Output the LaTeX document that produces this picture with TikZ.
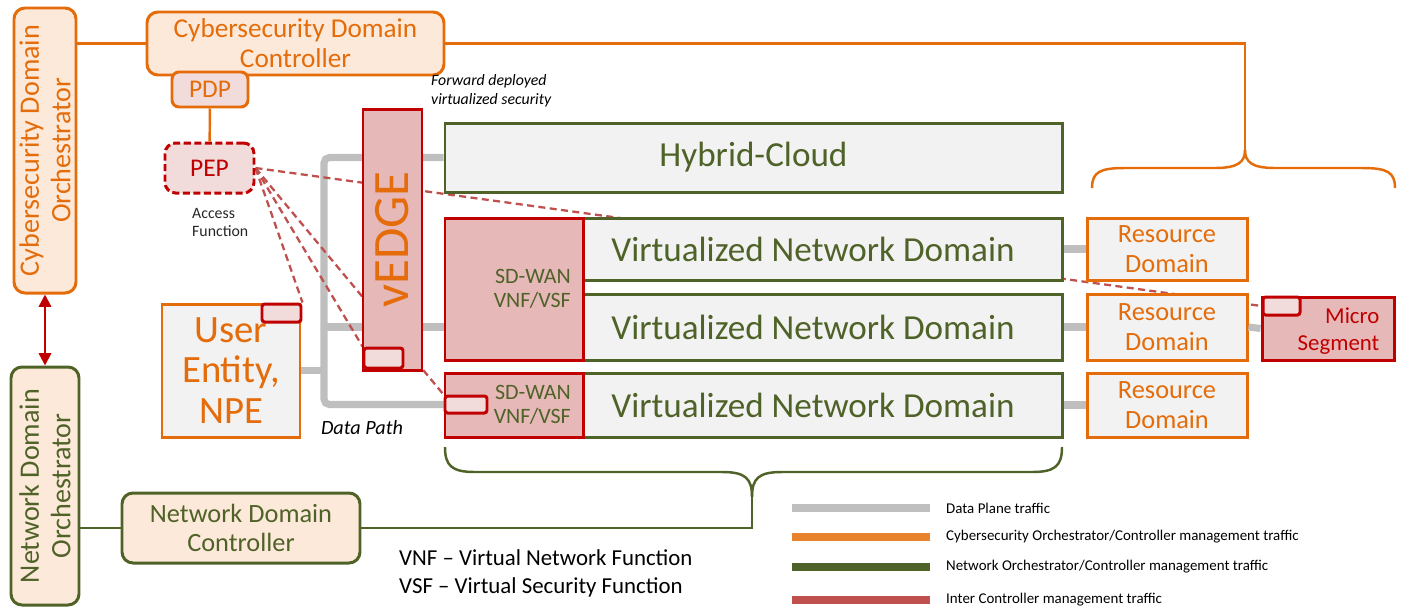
\documentclass[tikz,border=0pt]{standalone}
\usepackage{fontspec}
\setmainfont{Carlito}
\usetikzlibrary{positioning,backgrounds,arrows.meta}
\definecolor{orgline}{RGB}{228,108,10}
\definecolor{orgfill}{RGB}{253,233,217}
\definecolor{grnline}{RGB}{79,98,40}
\definecolor{redline}{RGB}{192,0,0}
\definecolor{redfill}{RGB}{230,185,184}
\definecolor{pinkfill}{RGB}{242,220,219}
\definecolor{boxfill}{RGB}{242,242,242}
\definecolor{dashred}{RGB}{192,80,77}
\definecolor{datagray}{RGB}{191,191,191}
\definecolor{legorange}{RGB}{233,130,45}
\tikzset{
  px/.style 2 args={minimum width=#1*0.02cm, minimum height=#2*0.02cm},
  base/.style={draw, line width=1.7pt, inner sep=0pt, align=center},
  orchbox/.style={base, rounded corners=0.22cm, fill=orgfill},
  netbox/.style={base, draw=grnline, fill=boxfill, text=grnline},
  resbox/.style={base, draw=orgline, fill=boxfill, text=orgline},
  secbox/.style={base, draw=redline, fill=redfill},
  tagbox/.style={base, draw=redline, fill=pinkfill, rounded corners=1.5pt},
  datapath/.style={datagray, line width=4pt},
  csmgmt/.style={orgline, line width=1.4pt},
  nwmgmt/.style={grnline, line width=1.4pt},
  icmgmt/.style={dashred, line width=1.3pt, dash pattern=on 4pt off 2.5pt},
}
\begin{document}
\begin{tikzpicture}[x=0.02cm, y=-0.02cm]
\useasboundingbox (0,0) rectangle (1403,613);
\def\fmid{\fontsize{15}{17}\selectfont}
\def\fbig{\fontsize{20}{24}\selectfont}
\def\fsmall{\fontsize{9}{10.5}\selectfont}

% orchestrators and controllers
\node[orchbox, draw=orgline, text=orgline, rotate=90, px={285}{62}, font=\fontsize{16}{18}\selectfont] (cso) at (45,150.5) {Cybersecurity Domain\\Orchestrator};
\node[orchbox, draw=grnline, text=grnline, rotate=90, px={238}{68}, font=\fontsize{16}{18}\selectfont] (ndo) at (45,486) {Network Domain\\Orchestrator};
\draw[redline, line width=1.3pt, {Triangle[length=7pt,width=7pt]}-{Triangle[length=7pt,width=7pt]}] (cso) -- (ndo);

\node[orchbox, draw=orgline, text=orgline, px={297}{63}, font=\fontsize{15.5}{17}\selectfont] (cdc) at (295.5,43.5) {Cybersecurity Domain\\Controller};
\node[orchbox, draw=grnline, text=grnline, px={238}{70}, font=\fmid] (ndc) at (241,528) {Network Domain\\Controller};
\draw[csmgmt] (cdc.west) -- (cdc.west -| cso.south);
\draw[nwmgmt] (ndc.west) -- (ndc.west -| ndo.south);

\node[base, draw=orgline, fill=pinkfill, text=orgline, rounded corners=4pt, px={76}{35}, font=\fontsize{14.5}{16}\selectfont] (pdp) at (210,89.5) {PDP};
\node[base, draw=redline, fill=pinkfill, text=redline, dash pattern=on 4pt off 2pt, rounded corners=6pt, px={89}{50}, font=\fontsize{14.5}{16}\selectfont] (pep) at (209.5,168) {PEP};
\draw[csmgmt] (pdp) -- (pep);
\node[anchor=north west, align=left, font=\fsmall, text=black!85] (acc) at (186,202) {Access\\Function};
\node[anchor=south west, align=left, font=\fsmall\itshape] (fwd) at (425,113) {Forward deployed\\virtualized security};

% domains
\node[netbox, px={617}{69}, font=\fbig] (hc) at (753.5,157.5) {Hybrid-Cloud};
\foreach \i/\yc/\h in {1/249/62, 2/327/66, 3/405/64}{
  \node[netbox, px={479}{\h}] (vnd\i) at (822.5,\yc) {};
  \node[text=grnline, font=\fbig] (vndtxt\i) at (813,\yc) {Virtualized Network Domain};
  \node[resbox, px={160}{\h}, font=\fmid] (rd\i) at (1167,\yc) {Resource\\Domain};
  \draw[datapath] (vnd\i.east) -- (rd\i.west);
}
\node[secbox, px={138}{142}] (sdA) at (514,289) {};
\node[anchor=east, align=right, text=grnline, font=\fontsize{12.5}{14}\selectfont] (sdAtxt) at ([xshift=-0.15cm]sdA.east) {SD-WAN\\VNF/VSF};
\node[secbox, px={138}{64}] (sdB) at (514,405) {};
\node[anchor=east, align=right, text=grnline, font=\fontsize{12.5}{14}\selectfont] (sdBtxt) at ([xshift=-0.15cm]sdB.east) {SD-WAN\\VNF/VSF};
\node[tagbox, px={42}{17}] (sdtag) at (466,404.5) {};

\node[secbox, text=orgline, rotate=90, px={261}{59}, font=\fontsize{29}{32}\selectfont] (vedge) at (392.5,239.5) {vEDGE};
\node[tagbox, px={39}{20}] (vedgetag) at (383.5,358) {};

\node[resbox, px={138}{133}, font=\fontsize{22}{23}\selectfont] (ue) at (231,370.5) {User\\Entity,\\NPE};
\node[tagbox, px={39}{18}] (uetag) at (281.5,313) {};

\node[secbox, px={132}{63}] (micro) at (1328,328.5) {};
\node[anchor=east, align=right, text=redline, font=\fontsize{13}{15}\selectfont] (microtxt) at ([xshift=-0.2cm,yshift=-0.05cm]micro.east) {Micro\\Segment};
\node[tagbox, px={37}{18}] (microtag) at (1281.5,306) {};
\draw[datapath] (rd2.east) -- (micro.west);

% data path and inter controller traffic behind the boxes
\coordinate (dpx) at (324,0);
\begin{scope}[on background layer]
  \draw[datapath, rounded corners=3pt] (hc.west) -| (dpx |- sdtag.west) -- (sdtag.west);
  \draw[datapath] (ue.east) -- (ue.east -| dpx);
  \draw[datapath] (dpx |- vnd2) -- (sdA.west |- vnd2);
  \draw[icmgmt] (pep.east) -- (microtag.west);
  \draw[icmgmt] (pep.east) -- (sdtag.north west);
  \draw[icmgmt] (pep.east) -- (vedgetag.north west);
  \draw[icmgmt] (pep.east) -- (uetag.north east);
\end{scope}
\node[font=\fontsize{11.5}{13}\selectfont\itshape] (dplabel) at (362,428) {Data Path};

% braces
\coordinate (otip) at (1245,150);
\draw[csmgmt] (1092,188) .. controls (1092,172) and (1100,168) .. (1125,168) -- (1215,168) .. controls (1238,168) and (1245,162) .. (otip);
\draw[csmgmt] (1395,188) .. controls (1395,172) and (1387,168) .. (1362,168) -- (1275,168) .. controls (1252,168) and (1245,162) .. (otip);
\draw[csmgmt] (cdc.east) -| (otip);
\coordinate (gtip) at (752,497);
\draw[nwmgmt] (445,447) .. controls (445,466) and (452,472) .. (475,472) -- (722,472) .. controls (745,472) and (752,478) .. (gtip);
\draw[nwmgmt] (1062,447) .. controls (1062,466) and (1055,472) .. (1032,472) -- (782,472) .. controls (759,472) and (752,478) .. (gtip);
\draw[nwmgmt] (gtip) |- (ndc.east);

\node[anchor=north west, align=left, font=\fontsize{13}{16}\selectfont] (abbr) at (393,543) {VNF – Virtual Network Function\\VSF – Virtual Security Function};

% legend
\foreach \c/\y/\t [count=\i] in {datagray/508/{Data Plane traffic},
  legorange/537/{Cybersecurity Orchestrator/Controller management traffic},
  grnline/567/{Network Orchestrator/Controller management traffic},
  dashred/600/{Inter Controller management traffic}}{
  \draw[\c, line width=4.5pt] (792,\y) -- (930,\y) coordinate (leg\i);
  \node[anchor=west, font=\fontsize{8.5}{10}\selectfont] (legtxt\i) at ([xshift=0.2cm]leg\i) {\t};
}
\end{tikzpicture}
\end{document}
